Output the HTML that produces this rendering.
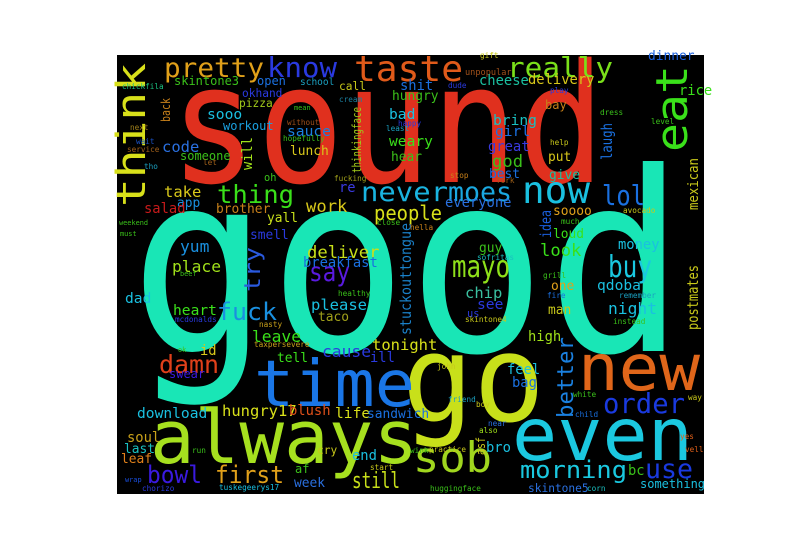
<!DOCTYPE html>
<html><head><meta charset="utf-8"><style>
html,body{margin:0;padding:0;background:#fff;}
svg{display:block;}
text{font-family:"DejaVu Sans Mono","Liberation Mono",monospace;}
</style></head><body>
<svg id="wc" width="800" height="550" viewBox="0 0 800 550" xmlns="http://www.w3.org/2000/svg">
<rect x="0" y="0" width="800" height="550" fill="#fff"/>
<rect x="117" y="55" width="587" height="439" fill="#000"/>
<g id="words"></g>
</svg>
<script>
// word, x, baseline y, font size, length, color
const words = ["good","sound","go","always","time","even","new","sob","taste","really","know","pretty","thing","never","moes","now","lol","mayo","buy","say","fuck","damn","order","use","morning","bowl","first","still","people"];
const wx = [130,170,402,150,254,512,578,413,354,507,267,164,217,361,448,522,602,452,608,309,217,159,603,645,520,147,215,352,374];
const wy = [351,182,421,463,406,460,390,472,81,77,77,77,203,201,201,203,205,277,277,281,320,373,413,478,478,483,483,488,220];
const ws = [250,165,120,74,64,73,64,42,36,28,28,27,25,27,27,37,28,30,30,27,24,25,28,27,24,24,24,22,20];
const wl = [555,435,143,268,161,181,122,79,109,106,70,100,77,87,64,68,43,58,44,41,60,60,82,48,107,55,69,48,68];
const wc = ["#19e6b6","#e0301e","#c8e01a","#a6e01f","#1a76e6","#1bc8e0","#e0661a","#a0d61e","#e05a1a","#7ae01a","#2a3ae0","#e0a01a","#3ae01a","#1ab4e0","#1aa8e0","#1ac0e0","#1a70e0","#8ee01a","#1ac8e0","#5a1ae0","#1a90e0","#e0401a","#1a3ae0","#1a3ae0","#1ac8e0","#3a1ae0","#e0a01a","#c8e01a","#d8e01a"];

const vWords = ["think","eat","better","stuckouttongue","try","will","thinkingface","laugh","mexican","idea","postmates","back","asf"];
const vx = [145,687,573,411,260,252,361,612,698,551,698,170,485];
const vy = [207,152,418,335,292,170,173,160,210,238,330,122,455];
const vs = [40,44,22,15,22,14,12,15,14,15,15,12,12];
const vl = [144,87,81,112,45,33,66,37,52,28,65,24,18];
const vc = ["#d8e01a","#3ae01a","#1a80e0","#1a80c8","#2a5ae0","#a0e01a","#a0c81a","#1a70e0","#c8c81a","#1a60e0","#c8c81a","#c8801a","#c8c81a"];

const sWords = ["chickfila","skintone3","open","school","call","okhand","pizza","cream","sooo","bad","mean","without","next","workout","sauce","least","wait","hopefully","weary","service","code","lunch","someone","let","hear","tho","oh","fucking","re","take","app","salad","brother","work","yall","weekend","must","close","smell","yum","deliver","breakfast","place","beef","gift","unpopular","dinner","shit","dude","cheese","delivery","hungry","rice","play","bay","dress","level","bring","girl","help","great","god","put","stop","best","give","fork","everyone","soooo","avocado","much","hella","loud","money","guy","look","sofritas","grill","dad","heart","mcdonalds","please","taco","healthy","nasty","leave","id","tonight","ok","taxpersevere","cause","tell","ill","swear","download","hungry17","blush","life","sandwich","soul","last","leaf","run","cry","end","af","start","wrap","chorizo","tuskegeerys17","week","one","chip","qdoba","fire","remember","see","man","night","us","skintone4","instead","high","john","feel","bag","white","way","friend","boy","child","near","also","yes","bro","wink","practice","vell","bc","something","skintone5","corn","huggingface","happy"];
const sx = [122,174,257,300,339,242,239,339,207,389,294,287,130,223,287,386,136,283,389,127,162,290,180,203,391,144,264,334,339,164,177,144,216,306,267,119,120,377,250,180,307,303,172,180,480,465,648,400,448,479,528,392,679,550,545,600,651,493,495,550,488,492,548,450,489,549,496,445,553,623,561,410,553,618,479,540,477,543,125,173,175,311,318,338,259,252,200,372,178,254,322,277,370,169,137,222,289,335,367,127,124,121,192,317,352,295,370,125,142,219,294,551,465,597,547,619,477,548,608,467,465,613,528,437,507,512,573,688,448,476,575,488,479,680,486,410,429,685,628,640,528,587,430,398];
const sy = [89,85,85,85,90,97,107,102,119,119,110,125,130,130,136,131,144,141,146,152,152,155,160,165,161,169,181,181,192,197,207,213,213,212,222,225,236,225,239,252,258,267,272,276,58,75,60,90,88,85,84,100,95,93,109,115,124,125,136,145,151,167,161,178,178,179,183,207,215,213,224,230,238,249,252,256,260,278,303,315,322,310,321,296,327,342,355,350,352,347,357,362,362,378,418,416,415,418,418,442,453,463,453,454,460,473,470,482,491,490,487,290,298,290,298,298,309,314,314,317,322,324,341,369,374,387,397,400,402,407,417,426,433,439,452,453,452,452,475,488,492,491,491,126];
const ss = [9,14,14,11,13,13,13,9,17,17,8,9,9,14,17,9,9,9,17,9,18,15,14,9,15,9,12,9,16,18,15,16,15,20,15,8,8,9,15,19,20,16,19,8,9,10,15,16,9,16,16,15,16,9,14,9,9,17,17,9,16,20,15,9,15,15,9,16,15,9,9,9,15,16,15,20,9,9,17,17,9,18,15,9,9,19,16,18,8,9,19,15,16,14,17,18,16,17,15,16,15,15,9,13,16,14,9,8,9,9,15,15,18,17,9,9,17,15,19,12,9,9,16,9,16,16,9,9,9,9,9,9,9,9,16,9,9,9,16,14,13,9,9,9];
const sc = ["#1ac080","#3ac01a","#1a70e0","#1aa0c0","#c8c81a","#2a3ae0","#a0c81a","#1a80a0","#1ac0e0","#1ac0e0","#3ac01a","#a0501a","#a0801a","#1aa0e0","#1a80e0","#1aa0c0","#1a50c0","#3ac01a","#3ae01a","#a0601a","#2a70e0","#d8c81a","#3ac01a","#a0601a","#3ac01a","#1aa0c0","#3ac01a","#a0a01a","#3a3ae0","#d8c81a","#1a90e0","#c81a1a","#c8801a","#d8c81a","#c8e01a","#3ac01a","#3ac01a","#3ac01a","#2a3ae0","#1a90e0","#c8e01a","#1a70e0","#a0e01a","#3ac01a","#c8c81a","#a0501a","#1a60e0","#1a70e0","#2a3ae0","#1ac0a0","#d8c81a","#3ac01a","#3ae01a","#2a3ae0","#c8801a","#3ac01a","#3ac01a","#1ac0c0","#1a70e0","#c8c81a","#3a3ae0","#3ac01a","#d8c81a","#c8801a","#1a70e0","#1ac0a0","#a0601a","#2a70e0","#e0a01a","#c8c81a","#3ac01a","#c8801a","#3ae01a","#1ac0e0","#3ac01a","#3ae01a","#1ac0c0","#3ac01a","#1ac0e0","#3ae01a","#2a3ae0","#1ac0e0","#a0a01a","#3ac01a","#c8a01a","#3ae01a","#d8c81a","#d8e01a","#3ac01a","#c8a01a","#2a3ae0","#3ae01a","#2a3ae0","#3a1ae0","#1ac0e0","#d8e01a","#e0501a","#d8e01a","#1a70e0","#c8a01a","#1ac0c0","#e0801a","#3ac01a","#c8c81a","#1ac0e0","#3ac01a","#c8c81a","#1a50e0","#2a3ae0","#1ac0e0","#2a70e0","#e0a01a","#3ac0a0","#1ac0e0","#1a70e0","#1aa0c0","#2a3ae0","#c8c81a","#1ac0e0","#2a3ae0","#c8c81a","#3ac01a","#a0e01a","#c8c81a","#1ac0e0","#1a70e0","#3ac01a","#c8c81a","#1aa0c0","#c8c81a","#1a70e0","#2a70e0","#a0e01a","#e0601a","#1ac0e0","#3ac01a","#c8c81a","#e0601a","#3ac01a","#1ac0e0","#2a70e0","#1ac0c0","#3ac01a","#2a3ae0"];
const smallScale = 0.86;

const g = document.getElementById('words');
const NS = 'http://www.w3.org/2000/svg';
for (let i = 0; i < words.length; i++) {
  const t = document.createElementNS(NS, 'text');
  
  
  t.setAttribute('x', wx[i]); t.setAttribute('y', wy[i]);
  t.setAttribute('font-size', ws[i]); t.setAttribute('fill', wc[i]);
  t.setAttribute('textLength', wl[i]); t.setAttribute('lengthAdjust', 'spacingAndGlyphs');
  t.textContent = words[i];
  g.appendChild(t);
}
for (let i = 0; i < vWords.length; i++) {
  const t = document.createElementNS(NS, 'text');
  
  
  t.setAttribute('x', vx[i]); t.setAttribute('y', vy[i]);
  t.setAttribute('transform', 'rotate(-90 ' + vx[i] + ' ' + vy[i] + ')');
  t.setAttribute('font-size', vs[i]); t.setAttribute('fill', vc[i]);
  t.setAttribute('textLength', vl[i]); t.setAttribute('lengthAdjust', 'spacingAndGlyphs');
  t.textContent = vWords[i];
  g.appendChild(t);
}
for (let i = 0; i < sWords.length; i++) {
  const t = document.createElementNS(NS, 'text');
  
  
  t.setAttribute('x', sx[i]); t.setAttribute('y', sy[i]);
  t.setAttribute('font-size', (ss[i] * smallScale).toFixed(1)); t.setAttribute('fill', sc[i]);
  t.textContent = sWords[i];
  g.appendChild(t);
}
</script>
</body></html>
